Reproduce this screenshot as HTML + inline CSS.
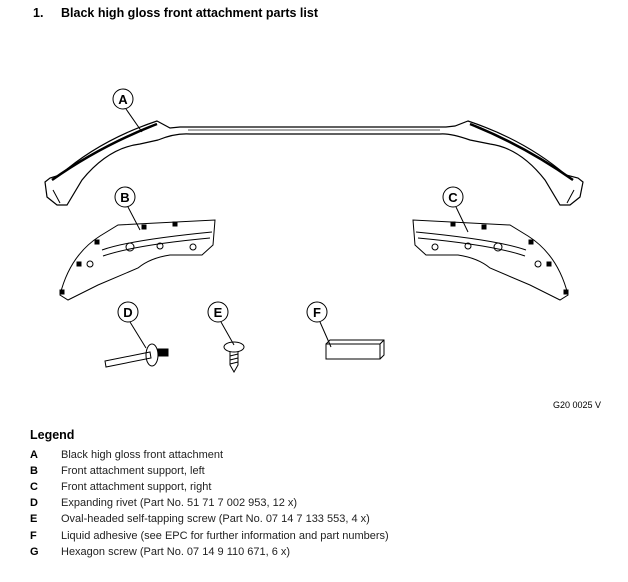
<!DOCTYPE html>
<html><head><style>
body{margin:0;background:#fff;width:628px;height:582px;overflow:hidden;font-family:"Liberation Sans",Arial,sans-serif;color:#000;position:relative}
.t{position:absolute;left:33px;top:6px;font-size:12.5px;font-weight:bold}
.t span{display:inline-block;width:28px}
.lg{position:absolute;left:30px;top:428px;font-size:12.5px;font-weight:bold}
.row{position:absolute;left:30px;font-size:11px;color:#222;white-space:nowrap}
.row b{display:inline-block;width:31px;color:#000}
.code{position:absolute;left:553px;top:400px;font-size:9px}
</style></head><body>
<div class="t"><span>1.</span>Black high gloss front attachment parts list</div>
<svg width="628" height="582" style="position:absolute;left:0;top:0" fill="none" stroke="#000" stroke-width="1">
<!-- Part A -->
<path d="M45,182 L50,178 L60,175 Q100,140 157,121 L170,128 L180,127 L446,127 L455,126 L468,121 Q525,140 566,175 L578,178 L583,182 L580,197 L570,205 L560,205 L545,180 Q520,148 490,144 L470,140 Q450,133 440,134 L190,134 Q175,133 158,140 L140,144 Q108,148 82,180 L67,205 L57,205 L47,197 Z" stroke-width="1.2"/>
<path d="M52,180 Q100,146 157,124 M573,180 Q525,146 470,124" stroke-width="2.5"/>
<path d="M188,130 L440,130" stroke="#555"/>
<path d="M53,190 L60,203 M574,190 L567,203"/>
<!-- Part B -->
<path d="M118,225 L215,220 L213,245 L202,255 L170,255 Q150,258 138,268 L98,285 L68,300 L60,295 Q70,255 100,236 Z"/>
<path d="M102,250 Q130,240 212,232 M103,256 Q135,245 210,238"/>
<circle cx="130" cy="247" r="4"/><circle cx="160" cy="246" r="3"/><circle cx="193" cy="247" r="3"/><circle cx="90" cy="264" r="3"/>
<rect x="142" y="225" width="4" height="4" fill="#000"/><rect x="173" y="222" width="4" height="4" fill="#000"/><rect x="95" y="240" width="4" height="4" fill="#000"/><rect x="77" y="262" width="4" height="4" fill="#000"/><rect x="60" y="290" width="4" height="4" fill="#000"/>
<!-- Part C -->
<path d="M510,225 L413,220 L415,245 L426,255 L458,255 Q478,258 490,268 L530,285 L560,300 L568,295 Q558,255 528,236 Z"/>
<path d="M526,250 Q498,240 416,232 M525,256 Q493,245 418,238"/>
<circle cx="498" cy="247" r="4"/><circle cx="468" cy="246" r="3"/><circle cx="435" cy="247" r="3"/><circle cx="538" cy="264" r="3"/>
<rect x="482" y="225" width="4" height="4" fill="#000"/><rect x="451" y="222" width="4" height="4" fill="#000"/><rect x="529" y="240" width="4" height="4" fill="#000"/><rect x="547" y="262" width="4" height="4" fill="#000"/><rect x="564" y="290" width="4" height="4" fill="#000"/>
<!-- D rivet -->
<path d="M105,361 L150,352 L151,358 L106,367 Z"/>
<ellipse cx="152" cy="355" rx="6" ry="11"/>
<rect x="158" y="349" width="10" height="7" fill="#000"/>
<!-- E screw -->
<ellipse cx="234" cy="347" rx="10" ry="5"/>
<path d="M230,352 L230,365 L234,372 L238,365 L238,352 M230,356 L238,354 M230,360 L238,358 M230,364 L238,362"/>
<!-- F box -->
<path d="M326,344 L380,344 L380,359 L326,359 Z M326,344 L330,340 L384,340 L384,355 L380,359 M380,344 L384,340"/>
<!-- Labels -->
<g font-family="Liberation Sans,Arial,sans-serif" font-weight="bold" font-size="13" fill="#000" stroke="none" text-anchor="middle">
<circle cx="123" cy="99" r="10" fill="#fff" stroke="#000"/><text x="123" y="104">A</text>
<circle cx="125" cy="197" r="10" fill="#fff" stroke="#000"/><text x="125" y="202">B</text>
<circle cx="453" cy="197" r="10" fill="#fff" stroke="#000"/><text x="453" y="202">C</text>
<circle cx="128" cy="312" r="10" fill="#fff" stroke="#000"/><text x="128" y="317">D</text>
<circle cx="218" cy="312" r="10" fill="#fff" stroke="#000"/><text x="218" y="317">E</text>
<circle cx="317" cy="312" r="10" fill="#fff" stroke="#000"/><text x="317" y="317">F</text>
</g>
<path d="M126,109 L142,132 M128,207 L140,230 M456,207 L468,232 M130,322 L146,348 M221,322 L234,345 M320,322 L331,347"/>
</svg>
<div class="code">G20 0025 V</div>
<div class="lg">Legend</div>
<div class="row" style="top:449px"><b>A</b>Black high gloss front attachment</div>
<div class="row" style="top:465px"><b>B</b>Front attachment support, left</div>
<div class="row" style="top:481px"><b>C</b>Front attachment support, right</div>
<div class="row" style="top:497px"><b>D</b>Expanding rivet (Part No. 51 71 7 002 953, 12 x)</div>
<div class="row" style="top:513px"><b>E</b>Oval-headed self-tapping screw (Part No. 07 14 7 133 553, 4 x)</div>
<div class="row" style="top:530px"><b>F</b>Liquid adhesive (see EPC for further information and part numbers)</div>
<div class="row" style="top:546px"><b>G</b>Hexagon screw (Part No. 07 14 9 110 671, 6 x)</div>
</body></html>
